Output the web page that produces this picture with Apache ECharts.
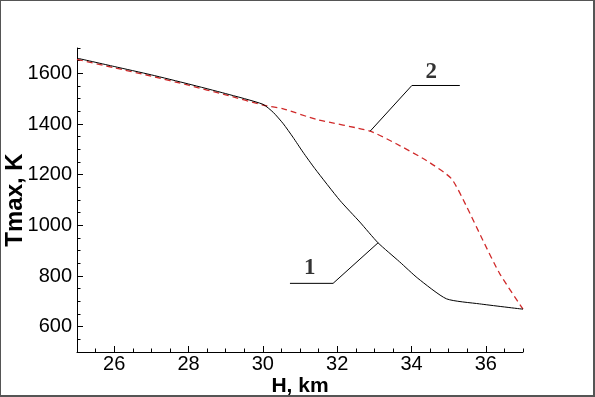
<!DOCTYPE html>
<html>
<head>
<meta charset="utf-8">
<script src="https://cdn.jsdelivr.net/npm/echarts@6/dist/echarts.min.js"></script>
<style>
  html, body { margin: 0; padding: 0; background: #fff; }
  #chart {
    width: 595px; height: 397px; box-sizing: border-box;
    border-style: solid; border-color: #555;
    border-width: 1px 2px 2px 1px;
  }
</style>
</head>
<body>
<div id="chart"></div>
<script>
// curve 1 (solid black)
var h1 = [25, 26, 27, 28, 29, 30, 30.28, 30.55, 30.81, 31.08, 31.4, 32.07, 32.61, 33.1, 33.68, 34.17, 34.94, 35.83, 37];
var t1 = [1660, 1627, 1594, 1558, 1520, 1478, 1446, 1401, 1348, 1289, 1224, 1099, 1013, 931, 856, 791, 710, 690, 669];
// curve 2 (dashed red)
var h2 = [25, 26, 27, 28, 29, 30, 30.55, 31.44, 32.88, 33.59, 34.4, 35.07, 35.48, 35.92, 36.37, 37];
var t2 = [1655, 1622, 1589, 1553, 1515, 1475, 1460, 1418, 1372, 1322, 1256, 1185, 1075, 941, 810, 669];
// leader lines for curve labels
var lead1H = [33.1, 31.89, 30.73];
var lead1T = [931, 771, 771];
var lead2H = [32.89, 34.01, 35.3];
var lead2T = [1372, 1552, 1552];
var curveLabels = [['1', 31.26, 830], ['2', 34.53, 1604]];
// tick labels
var xTicks = [26, 28, 30, 32, 34, 36];
var yTicks = [600, 800, 1000, 1200, 1400, 1600];

function pairs(xs, ys) {
  return xs.map(function (x, i) { return [x, ys[i]]; });
}
function onlyTicks(list) {
  return function (v) { return list.indexOf(Math.round(v * 100) / 100) >= 0 ? String(v) : ''; };
}

var chart = echarts.init(document.getElementById('chart'));
var font = 'Liberation Sans';
var tickStyle = { color: '#000', fontSize: 20, fontFamily: font };
var nameStyle = { color: '#000', fontWeight: 'bold', fontFamily: font };

// long ticks at labelled values, drawn by an overlaid axis
function majorAxis(min, max, ticks, pos) {
  return {
    type: 'value', min: min, max: max, position: pos,
    axisLine: { show: false },
    axisTick: { show: true, inside: true, length: 6, customValues: ticks, lineStyle: { color: '#000' } },
    axisLabel: { show: false },
    splitLine: { show: false }
  };
}

chart.setOption({
  animation: false,
  grid: { left: 76, right: 70, top: 47, bottom: 43, containLabel: false, outerBoundsMode: 'none' },
  xAxis: [
    {
      type: 'value', min: 25, max: 37, interval: 0.5, position: 'bottom',
      axisLine: { show: true, lineStyle: { color: '#000', width: 1 } },
      axisTick: { show: true, inside: true, length: 3.5, lineStyle: { color: '#000' } },
      axisLabel: Object.assign({ margin: 2, formatter: onlyTicks(xTicks) }, tickStyle),
      splitLine: { show: false },
      name: 'H, km', nameLocation: 'middle', nameGap: 24, nameMoveOverlap: false,
      nameTextStyle: Object.assign({ fontSize: 21 }, nameStyle)
    },
    majorAxis(25, 37, xTicks, 'bottom')
  ],
  yAxis: [
    {
      type: 'value', min: 500, max: 1700, interval: 50, position: 'left',
      axisLine: { show: true, lineStyle: { color: '#000', width: 1 } },
      axisTick: { show: true, inside: true, length: 3.5, lineStyle: { color: '#000' } },
      axisLabel: Object.assign({ margin: 5, formatter: onlyTicks(yTicks) }, tickStyle),
      splitLine: { show: false },
      name: 'Tmax, K', nameLocation: 'middle', nameGap: 50, nameMoveOverlap: false,
      nameTextStyle: Object.assign({ fontSize: 24 }, nameStyle)
    },
    majorAxis(500, 1700, yTicks, 'left')
  ],
  series: [
    {
      type: 'line', data: pairs(h2, t2), showSymbol: false, smooth: 0.2,
      lineStyle: { color: '#d02a2a', width: 1.3, type: [6, 4] }
    },
    {
      type: 'line', data: pairs(h1, t1), showSymbol: false, smooth: 0.2,
      lineStyle: { color: '#000', width: 1 }
    },
    {
      type: 'line', data: pairs(lead1H, lead1T), showSymbol: false,
      lineStyle: { color: '#000', width: 1 }
    },
    {
      type: 'line', data: pairs(lead2H, lead2T), showSymbol: false,
      lineStyle: { color: '#000', width: 1 }
    },
    {
      type: 'scatter', symbolSize: 0,
      data: curveLabels.map(function (d) { return { name: d[0], value: [d[1], d[2]] }; }),
      label: {
        show: true, position: 'inside', formatter: '{b}', color: '#000',
        fontSize: 23, fontWeight: 'bold', fontFamily: 'Liberation Serif'
      }
    }
  ]
});
</script>
</body>
</html>
